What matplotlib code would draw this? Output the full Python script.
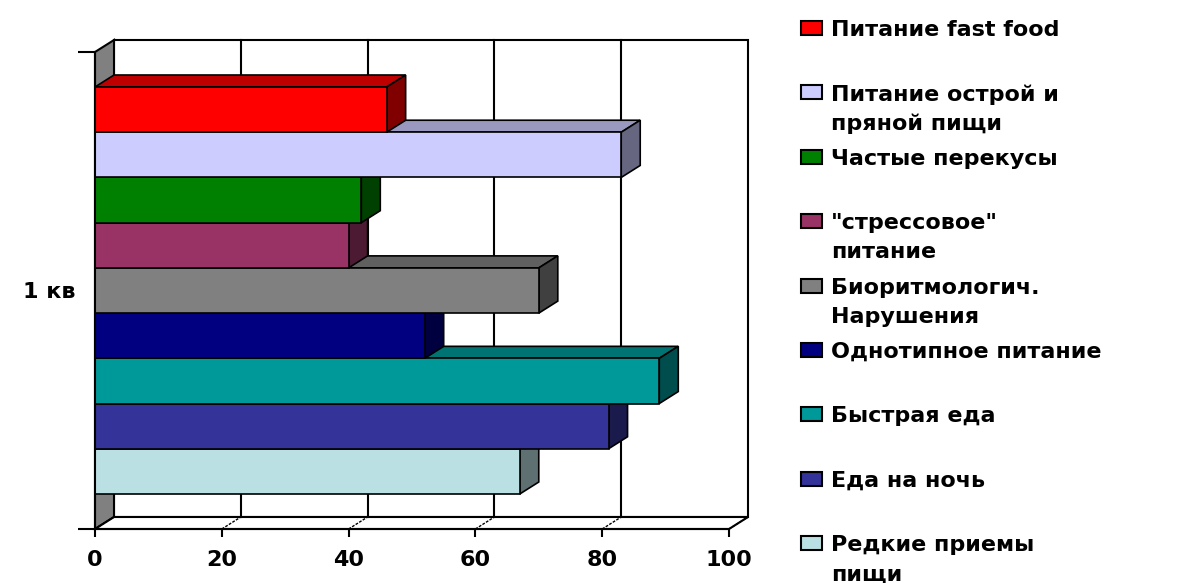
import matplotlib
matplotlib.use("Agg")
import matplotlib.pyplot as plt
from matplotlib.patches import Polygon, Rectangle
import numpy as np

# ---- data ----
categories = ["1 кв"]
series_labels = [
    "Питание fast food",
    "Питание острой и\nпряной пищи",
    "Частые перекусы",
    "\"стрессовое\"\nпитание",
    "Биоритмологич.\nНарушения",
    "Однотипное питание",
    "Быстрая еда",
    "Еда на ночь",
    "Редкие приемы\nпищи",
]
values = [46, 83, 42, 40, 70, 52, 89, 81, 67]
colors = ["#FF0000", "#CCCCFF", "#008000", "#993366", "#808080",
          "#000080", "#009999", "#333399", "#BBE0E3"]
xticks = [0, 20, 40, 60, 80, 100]

# ---- figure geometry (pixels) ----
W, H = 1192, 583
fig = plt.figure(figsize=(W / 100, H / 100), dpi=100)
ax_l, ax_r, ax_top, ax_bot = 95, 729, 52, 529
ax = fig.add_axes([ax_l / W, (H - ax_bot) / H, (ax_r - ax_l) / W, (ax_bot - ax_top) / H])

n = len(values)
px_per_y = 45.22
ymin = -0.5 - 35 / px_per_y
ymax = (n - 0.5) + 35 / px_per_y
ax.set_xlim(0, 100)
ax.set_ylim(ymin, ymax)
px_per_x = (ax_r - ax_l) / 100.0
dx = 19 / px_per_x      # depth offset in data units
dy = 12 / px_per_y

font = "DejaVu Sans"

def shade(c, f):
    rgb = np.array(matplotlib.colors.to_rgb(c))
    return tuple(rgb * f)

# walls
back = Polygon([(dx, ymin + dy), (100 + dx, ymin + dy), (100 + dx, ymax + dy), (dx, ymax + dy)],
               closed=True, facecolor="white", edgecolor="black", lw=1.5, zorder=0.5, clip_on=False)
ax.add_patch(back)
left = Polygon([(0, ymin), (dx, ymin + dy), (dx, ymax + dy), (0, ymax)],
               closed=True, facecolor="#808080", edgecolor="black", lw=1.5, zorder=0.6, clip_on=False)
ax.add_patch(left)
floor = Polygon([(0, ymin), (100, ymin), (100 + dx, ymin + dy), (dx, ymin + dy)],
                closed=True, facecolor="white", edgecolor="black", lw=1.5, zorder=0.6, clip_on=False)
ax.add_patch(floor)
for t in xticks[1:-1]:
    ax.plot([t + dx, t + dx], [ymin + dy, ymax + dy], color="black", lw=1.5, zorder=0.7, clip_on=False)
for t in xticks:
    ax.plot([t, t + dx], [ymin, ymin + dy], color="black", lw=1.0, ls=(0, (2, 1)), zorder=0.7, clip_on=False)

# bars: first series at the top
ypos = [n - 1 - i for i in range(n)]
bars = ax.barh(ypos, values, height=1.0, color=colors, edgecolor="black", lw=1.2)
for b, v, c, y in zip(bars, values, colors, ypos):
    z = 2 + y * 0.1
    b.set_zorder(z + 0.05)
    top = Polygon([(0, y + 0.5), (v, y + 0.5), (v + dx, y + 0.5 + dy), (dx, y + 0.5 + dy)],
                  closed=True, facecolor=shade(c, 0.75), edgecolor="black", lw=1.2, zorder=z, clip_on=False)
    side = Polygon([(v, y - 0.5), (v, y + 0.5), (v + dx, y + 0.5 + dy), (v + dx, y - 0.5 + dy)],
                   closed=True, facecolor=shade(c, 0.5), edgecolor="black", lw=1.2, zorder=z, clip_on=False)
    ax.add_patch(top)
    ax.add_patch(side)

for s in ["top", "right"]:
    ax.spines[s].set_visible(False)
for s in ["left", "bottom"]:
    ax.spines[s].set_linewidth(1.5)
    ax.spines[s].set_zorder(5)

ax.set_xticks(xticks)
ax.set_xticklabels([str(t) for t in xticks], fontfamily=font, fontweight="bold", fontsize=16)
ax.tick_params(axis="x", direction="out", length=6, width=1.5, pad=9)
ax.set_yticks([ymin, ymax], minor=True)
ax.set_yticks([(n - 1) / 2])
ax.set_yticklabels(categories, fontfamily=font, fontweight="bold", fontsize=16)
ax.tick_params(axis="y", which="major", length=0, pad=14)
ax.tick_params(axis="y", which="minor", length=12, width=1.5)

# legend (manual, Excel-like)
leg_y0, leg_step = 28, 64.4
for i, (lab, c) in enumerate(zip(series_labels, colors)):
    cy = leg_y0 + i * leg_step
    fig.patches.append(Rectangle((801 / W, (H - cy - 7) / H), 21 / W, 14 / H,
                                 facecolor=c, edgecolor="black", lw=1.5,
                                 transform=fig.transFigure, figure=fig))
    for k, line in enumerate(lab.split("\n")):
        fig.text(831 / W, (H - cy - 29 * k) / H, line, fontfamily=font, fontweight="bold",
                 fontsize=16, va="center_baseline", ha="left", color="black")

fig.savefig("out.png", dpi=100)
